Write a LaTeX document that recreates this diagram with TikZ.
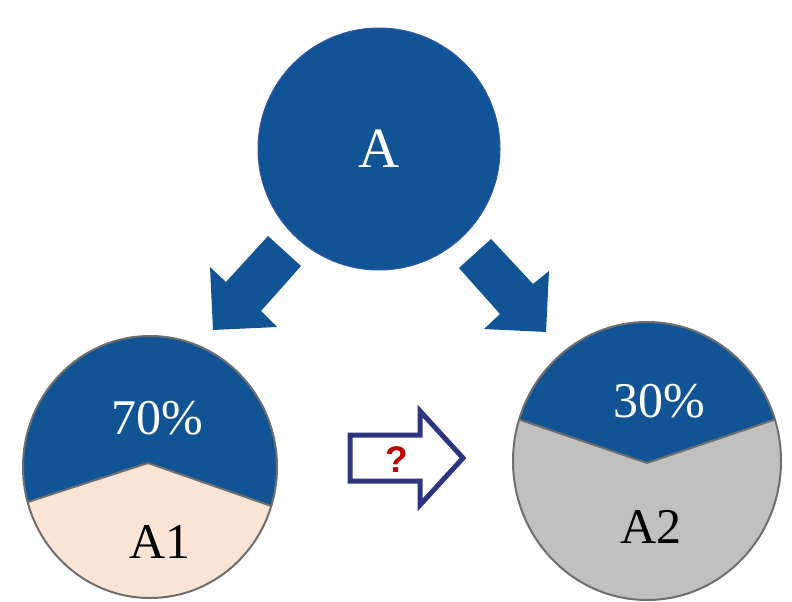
\documentclass[tikz,border=0pt]{standalone}
\usepackage{fontspec}
\setmainfont{Liberation Serif}
\newfontfamily\qfont{Liberation Sans}
\usetikzlibrary{shapes.geometric}
\definecolor{mblue}{RGB}{17,84,150}
\definecolor{mblueedge}{RGB}{52,86,170}
\definecolor{peach}{RGB}{250,228,214}
\definecolor{lgray}{RGB}{192,192,192}
\definecolor{edgegray}{RGB}{110,110,110}
\definecolor{navy}{RGB}{46,52,128}
\definecolor{qred}{RGB}{192,0,0}
\begin{document}
\begin{tikzpicture}[x=1pt,y=-1pt,
  pielabel/.style={inner sep=0pt, font=\fontsize{50}{50}\selectfont},
  bigarrow/.style={fill=mblue},
  pieedge/.style={draw=edgegray, line width=2pt}]
\useasboundingbox (0,0) rectangle (792,602);
% top circle
\node[ellipse, fill=mblue, draw=mblueedge, line width=1pt, minimum width=242pt, minimum height=242pt,
  inner sep=0pt, text=white, font=\fontsize{57}{57}\selectfont] (A) at (379,149) {A};
% big arrows
\fill[bigarrow] (268,236) -- (301,266) -- (261,311) -- (277,327) -- (213,330) -- (210,267) -- (226,282) -- cycle;
\fill[bigarrow] (491,239) -- (459,268) -- (500,314) -- (484,329) -- (546,332) -- (549,271) -- (533,284) -- cycle;
% left pie
\begin{scope}
  \clip (150,467) ellipse [x radius=127, y radius=131];
  \fill[peach] (0,300) rectangle (300,602);
  \fill[mblue] (0,300) -- (300,300) -- (300,516) -- (148,463) -- (0,511) -- cycle;
  \draw[edgegray, line width=2pt] (0,511) -- (148,463) -- (300,516);
\end{scope}
\draw[pieedge] (150,467) ellipse [x radius=127, y radius=131];
\node[pielabel, text=white] (p1) at (157,418) {70\%};
\node[pielabel, text=black] (a1) at (160,542) {A1};
% right pie
\begin{scope}
  \clip (647,461) ellipse [x radius=134, y radius=139];
  \fill[lgray] (500,300) rectangle (800,602);
  \fill[mblue] (500,300) -- (800,300) -- (800,411) -- (647,463) -- (500,413) -- cycle;
  \draw[edgegray, line width=2pt] (500,413) -- (647,463) -- (800,411);
\end{scope}
\draw[pieedge] (647,461) ellipse [x radius=134, y radius=139];
\node[pielabel, text=white] (p2) at (659,401) {30\%};
\node[pielabel, text=black] (a2) at (651,527) {A2};
% question arrow
\draw[navy, line width=5pt, fill=white, line join=miter]
  (350,435) -- (420,435) -- (420,411) -- (463,458) -- (420,505) -- (420,481) -- (350,481) -- cycle;
\node[inner sep=0pt, text=qred, font=\qfont\bfseries\fontsize{37}{37}\selectfont] (q) at (397,460) {?};
\end{tikzpicture}
\end{document}
